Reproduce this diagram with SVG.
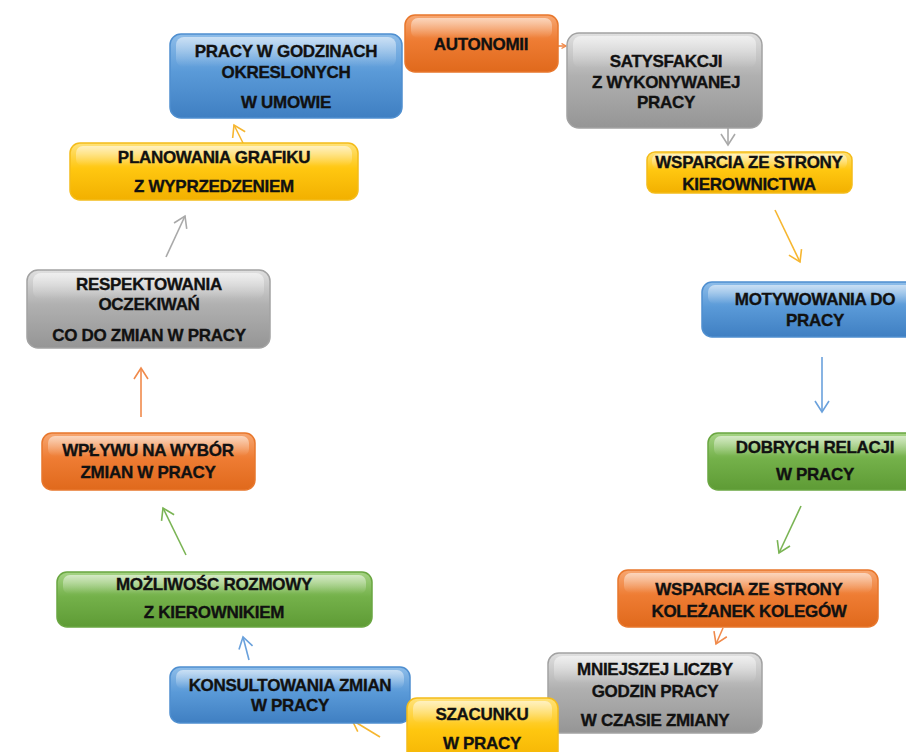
<svg xmlns="http://www.w3.org/2000/svg" width="906" height="752" viewBox="0 0 906 752">
<defs>
<linearGradient id="gBlue" x1="0" y1="0" x2="0" y2="1"><stop offset="0" stop-color="#8ebde9"/><stop offset="0.45" stop-color="#5a9ad8"/><stop offset="1" stop-color="#3f7fc2"/></linearGradient>
<linearGradient id="gOrange" x1="0" y1="0" x2="0" y2="1"><stop offset="0" stop-color="#f7a772"/><stop offset="0.45" stop-color="#ee7c33"/><stop offset="1" stop-color="#e0691c"/></linearGradient>
<linearGradient id="gGray" x1="0" y1="0" x2="0" y2="1"><stop offset="0" stop-color="#e0e0e0"/><stop offset="0.45" stop-color="#b0b0b0"/><stop offset="1" stop-color="#959595"/></linearGradient>
<linearGradient id="gYellow" x1="0" y1="0" x2="0" y2="1"><stop offset="0" stop-color="#ffe27a"/><stop offset="0.45" stop-color="#ffc710"/><stop offset="1" stop-color="#f2b000"/></linearGradient>
<linearGradient id="gGreen" x1="0" y1="0" x2="0" y2="1"><stop offset="0" stop-color="#a6d485"/><stop offset="0.45" stop-color="#74b14a"/><stop offset="1" stop-color="#5e9b35"/></linearGradient>
<linearGradient id="gShine" x1="0" y1="0" x2="0" y2="1"><stop offset="0" stop-color="#ffffff" stop-opacity="0.55"/><stop offset="1" stop-color="#ffffff" stop-opacity="0"/></linearGradient>
<marker id="mYellow" markerUnits="userSpaceOnUse" markerWidth="16" markerHeight="18" refX="12" refY="8" orient="auto"><path d="M1,1 L12,8 L1,15" fill="none" stroke="#f6b630" stroke-width="1.6"/></marker>
<marker id="mGray" markerUnits="userSpaceOnUse" markerWidth="16" markerHeight="18" refX="12" refY="8" orient="auto"><path d="M1,1 L12,8 L1,15" fill="none" stroke="#a9a9a9" stroke-width="1.6"/></marker>
<marker id="mBlue" markerUnits="userSpaceOnUse" markerWidth="16" markerHeight="18" refX="12" refY="8" orient="auto"><path d="M1,1 L12,8 L1,15" fill="none" stroke="#6aa1dc" stroke-width="1.6"/></marker>
<marker id="mGreen" markerUnits="userSpaceOnUse" markerWidth="16" markerHeight="18" refX="12" refY="8" orient="auto"><path d="M1,1 L12,8 L1,15" fill="none" stroke="#7ab454" stroke-width="1.6"/></marker>
<marker id="mOrange" markerUnits="userSpaceOnUse" markerWidth="16" markerHeight="18" refX="12" refY="8" orient="auto"><path d="M1,1 L12,8 L1,15" fill="none" stroke="#f08a4b" stroke-width="1.6"/></marker>
<marker id="mOrangeS" markerUnits="userSpaceOnUse" markerWidth="8" markerHeight="8" refX="5" refY="3" orient="auto"><path d="M0.5,0.5 L5,3 L0.5,5.5" fill="none" stroke="#f08a4b" stroke-width="1.4"/></marker>
</defs>
<style>
.box{stroke-width:1.5}
.blue{fill:url(#gBlue);stroke:#4f8fd0}
.orange{fill:url(#gOrange);stroke:#e8772c}
.gray{fill:url(#gGray);stroke:#a2a2a2}
.yellow{fill:url(#gYellow);stroke:#f4bc1a}
.green{fill:url(#gGreen);stroke:#6aa641}
.shine{fill:url(#gShine)}
.t{font-family:"Liberation Sans",Arial,sans-serif;font-weight:bold;font-size:17px;fill:#111111;stroke:#111111;stroke-width:0.35px;text-anchor:middle;letter-spacing:-0.3px}
.c{fill:none;stroke-width:1.6}
</style>
<rect width="906" height="752" fill="#ffffff"/>
<g id="connectors">
<path class="c" d="M553,46 L566,46" stroke="#f08a4b" marker-end="url(#mOrangeS)"/>
<path class="c" d="M728,128 L728,145" stroke="#a9a9a9" marker-end="url(#mGray)"/>
<path class="c" d="M775,210 L800,262" stroke="#f6b630" marker-end="url(#mYellow)"/>
<path class="c" d="M822,357 L822,412" stroke="#6aa1dc" marker-end="url(#mBlue)"/>
<path class="c" d="M801,506 L779,553" stroke="#7ab454" marker-end="url(#mGreen)"/>
<path class="c" d="M723,628 L716,644" stroke="#f08a4b" marker-end="url(#mOrange)"/>
<path class="c" d="M380,737 L352,720" stroke="#f6b630" marker-end="url(#mYellow)"/>
<path class="c" d="M249,660 L243,637" stroke="#6aa1dc" marker-end="url(#mBlue)"/>
<path class="c" d="M186,555 L163,508" stroke="#7ab454" marker-end="url(#mGreen)"/>
<path class="c" d="M141,417 L141,368" stroke="#f08a4b" marker-end="url(#mOrange)"/>
<path class="c" d="M166,257 L185,216" stroke="#a9a9a9" marker-end="url(#mGray)"/>
<path class="c" d="M244,145 L234,125" stroke="#f6b630" marker-end="url(#mYellow)"/>
</g>
<g id="n-pracy-w-godzinach">
<rect class="box blue" x="170" y="34" width="232" height="84" rx="11"/>
<rect class="shine" x="176" y="37" width="220" height="30" rx="8"/>
<text class="t" x="286" y="57">PRACY W GODZINACH</text>
<text class="t" x="286" y="78">OKRESLONYCH</text>
<text class="t" x="286" y="108">W UMOWIE</text>
</g>
<g id="n-autonomii">
<rect class="box orange" x="405" y="15" width="153" height="57" rx="10"/>
<rect class="shine" x="411" y="18" width="141" height="20" rx="7"/>
<text class="t" x="481" y="50">AUTONOMII</text>
</g>
<g id="n-satysfakcji">
<rect class="box gray" x="567" y="33" width="195" height="95" rx="12"/>
<rect class="shine" x="573" y="36" width="183" height="32" rx="8"/>
<text class="t" x="666" y="67">SATYSFAKCJI</text>
<text class="t" x="666" y="88">Z WYKONYWANEJ</text>
<text class="t" x="666" y="108">PRACY</text>
</g>
<g id="n-wsparcia-kierownictwa">
<rect class="box yellow" x="647" y="152" width="205" height="41" rx="8"/>
<rect class="shine" x="652" y="154" width="195" height="15" rx="6"/>
<text class="t" x="749" y="168">WSPARCIA ZE STRONY</text>
<text class="t" x="749" y="190">KIEROWNICTWA</text>
</g>
<g id="n-motywowania">
<rect class="box blue" x="702" y="282" width="226" height="55" rx="10"/>
<rect class="shine" x="708" y="285" width="214" height="19" rx="7"/>
<text class="t" x="815" y="305">MOTYWOWANIA DO</text>
<text class="t" x="815" y="326">PRACY</text>
</g>
<g id="n-dobrych-relacji">
<rect class="box green" x="708" y="433" width="216" height="57" rx="10"/>
<rect class="shine" x="714" y="436" width="204" height="20" rx="7"/>
<text class="t" x="815" y="453">DOBRYCH RELACJI</text>
<text class="t" x="815" y="480">W PRACY</text>
</g>
<g id="n-wsparcia-kolezanek">
<rect class="box orange" x="618" y="570" width="260" height="57" rx="10"/>
<rect class="shine" x="624" y="573" width="248" height="20" rx="7"/>
<text class="t" x="749" y="595">WSPARCIA ZE STRONY</text>
<text class="t" x="749" y="617">KOLEŻANEK KOLEGÓW</text>
</g>
<g id="n-mniejszej">
<rect class="box gray" x="548" y="653" width="214" height="80" rx="11"/>
<rect class="shine" x="554" y="656" width="202" height="27" rx="8"/>
<text class="t" x="655" y="675">MNIEJSZEJ LICZBY</text>
<text class="t" x="655" y="697">GODZIN PRACY</text>
<text class="t" x="655" y="726">W CZASIE ZMIANY</text>
</g>
<g id="n-konsultowania">
<rect class="box blue" x="170" y="667" width="240" height="56" rx="10"/>
<rect class="shine" x="176" y="670" width="228" height="19" rx="7"/>
<text class="t" x="290" y="691">KONSULTOWANIA ZMIAN</text>
<text class="t" x="290" y="711">W PRACY</text>
</g>
<g id="n-szacunku">
<rect class="box yellow" x="407" y="698" width="151" height="70" rx="10"/>
<rect class="shine" x="413" y="701" width="139" height="22" rx="7"/>
<text class="t" x="482" y="720">SZACUNKU</text>
<text class="t" x="482" y="749">W PRACY</text>
</g>
<g id="n-mozliwosc">
<rect class="box green" x="57" y="572" width="315" height="55" rx="10"/>
<rect class="shine" x="63" y="575" width="303" height="19" rx="7"/>
<text class="t" x="214" y="590">MOŻLIWOŚC ROZMOWY</text>
<text class="t" x="214" y="618">Z KIEROWNIKIEM</text>
</g>
<g id="n-wplywu">
<rect class="box orange" x="42" y="433" width="213" height="57" rx="10"/>
<rect class="shine" x="48" y="436" width="201" height="20" rx="7"/>
<text class="t" x="148" y="456">WPŁYWU NA WYBÓR</text>
<text class="t" x="148" y="478">ZMIAN W PRACY</text>
</g>
<g id="n-respektowania">
<rect class="box gray" x="27" y="270" width="243" height="78" rx="11"/>
<rect class="shine" x="33" y="273" width="231" height="26" rx="8"/>
<text class="t" x="149" y="290">RESPEKTOWANIA</text>
<text class="t" x="149" y="310">OCZEKIWAŃ</text>
<text class="t" x="149" y="341">CO DO ZMIAN W PRACY</text>
</g>
<g id="n-planowania">
<rect class="box yellow" x="70" y="143" width="288" height="57" rx="10"/>
<rect class="shine" x="76" y="146" width="276" height="20" rx="7"/>
<text class="t" x="214" y="163">PLANOWANIA GRAFIKU</text>
<text class="t" x="214" y="192">Z WYPRZEDZENIEM</text>
</g>
</svg>
